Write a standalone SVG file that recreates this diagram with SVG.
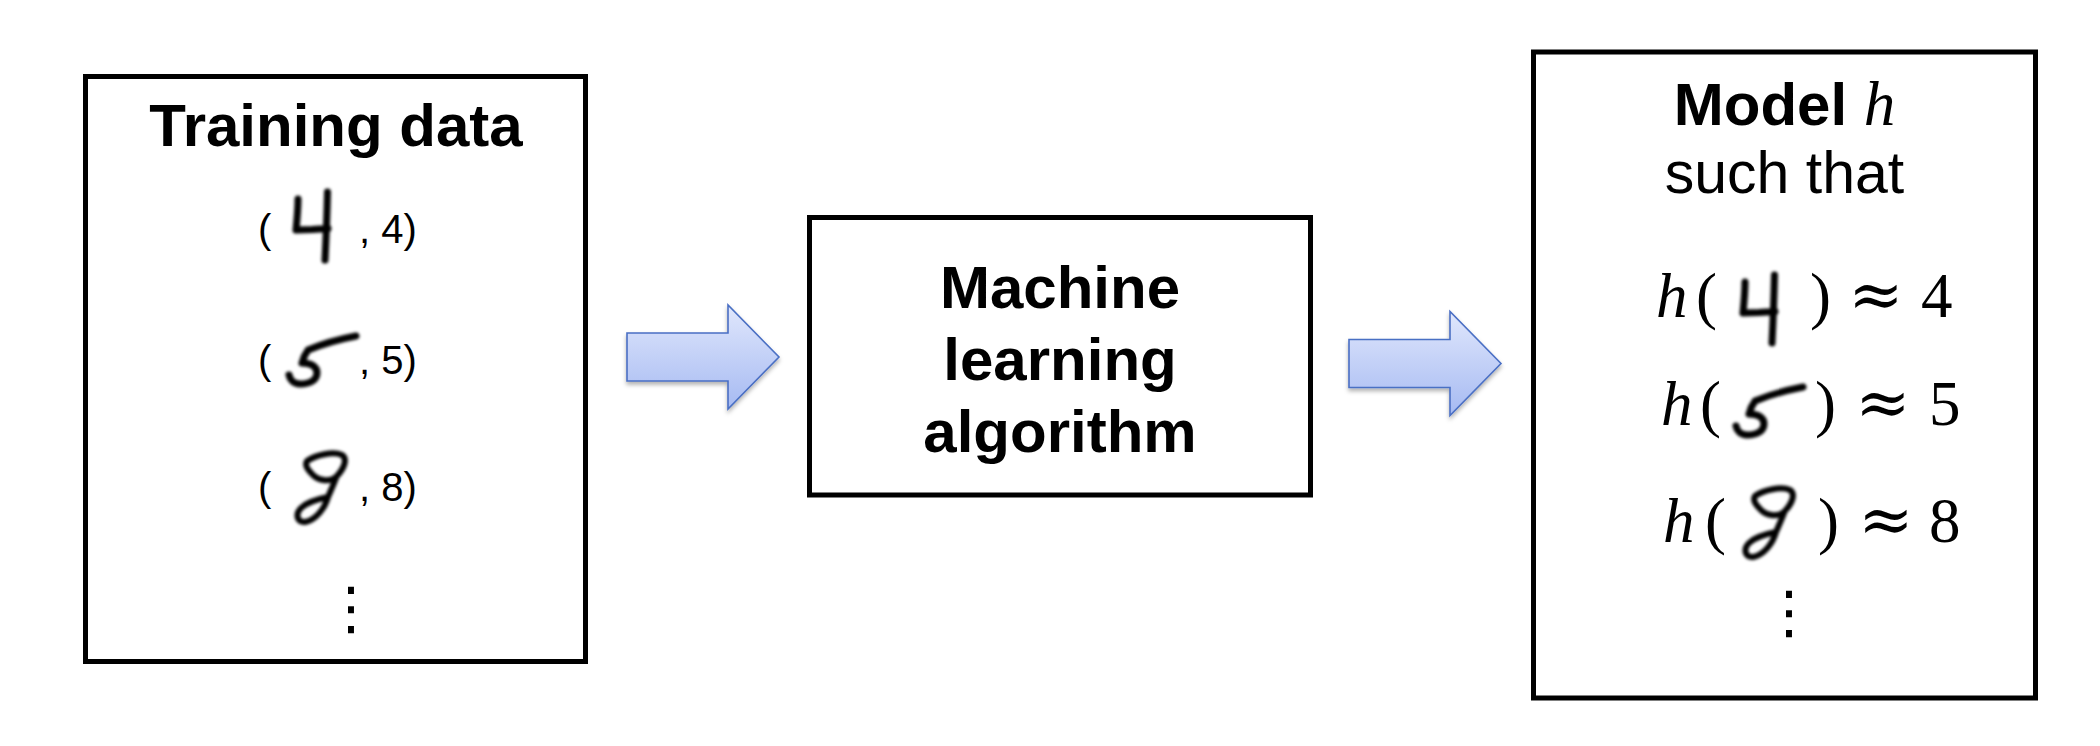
<svg xmlns="http://www.w3.org/2000/svg" width="2100" height="746" viewBox="0 0 2100 746">
<style>
.box{fill:#fff;stroke:#000;stroke-width:5}
.bold{font-family:"Liberation Sans",Arial,sans-serif;font-weight:bold;font-size:60px;fill:#000}
.reg{font-family:"Liberation Sans",Arial,sans-serif;font-size:59px;fill:#000}
.pair{font-family:"Liberation Sans",Arial,sans-serif;font-size:40px;fill:#000}
.math{font-family:"Liberation Serif","Times New Roman",serif;font-size:63px;fill:#000}
.mi{font-style:italic}
.approx{font-family:"DejaVu Serif",serif;font-size:66px;fill:#000}
.vd{font-family:"DejaVu Sans",sans-serif;font-size:58px;fill:#000}
.ink{fill:none;stroke:#000;stroke-width:7;stroke-linecap:round;stroke-linejoin:round;filter:url(#blur)}
.ink8{stroke-width:6}
.arrow{fill:url(#agrad);stroke:#4a6fc4;stroke-width:1.6;filter:url(#shadow)}
</style>
<defs>
<linearGradient id="agrad" x1="0" y1="0" x2="0" y2="1">
<stop offset="0" stop-color="#e0e7fc"/>
<stop offset="1" stop-color="#a6baf2"/>
</linearGradient>
<filter id="blur" x="-20%" y="-20%" width="140%" height="140%">
<feGaussianBlur stdDeviation="1.4"/>
</filter>
<filter id="shadow" x="-10%" y="-10%" width="130%" height="140%">
<feDropShadow dx="0" dy="3" stdDeviation="2" flood-color="#000" flood-opacity="0.3"/>
</filter>
<g id="d4">
<path class="ink" d="M298,199 C298,210 297,220 296,230 L312,229.5 L328,228.5 M327.5,192 C327,215 326,240 325,260"/>
</g>
<g id="d5">
<path class="ink" d="M356,336 C340,339 320,345 308,350 C305,354 303,359 302,363 C310,363 317,366 317,373 C317,380 310,384 300,384 C294,384 290,380 289,375"/>
</g>
<g id="d8">
<path class="ink ink8" d="M307,461 C316,455 333,451 342,455 C348,459 344,469 336,477 C330,482 320,481 314,476 C309,471 304,466 307,461 Z M336,478 C333,486 330,492 328,497 C325,508 316,520 305,522 C297,523 295,514 301,508 C307,502 318,499 328,497"/>
</g>
</defs>
<rect width="2100" height="746" fill="#fff"/>

<g id="connectors">
<path class="arrow" d="M627,333 L728,333 L728,305 L779,357 L728,409 L728,381 L627,381 Z"/>
<path class="arrow" d="M1349,339.5 L1450,339.5 L1450,311.5 L1501,363.5 L1450,415.5 L1450,387.5 L1349,387.5 Z"/>
</g>

<g id="training-data">
<rect class="box" x="85.5" y="76.5" width="500" height="585"/>
<text class="bold" x="336" y="146" text-anchor="middle">Training data</text>
<text class="pair" x="258" y="243">(</text>
<use href="#d4"/>
<text class="pair" x="359" y="243">, 4)</text>
<text class="pair" x="258" y="374">(</text>
<use href="#d5"/>
<text class="pair" x="359" y="374">, 5)</text>
<text class="pair" x="258" y="501">(</text>
<use href="#d8"/>
<text class="pair" x="359" y="501">, 8)</text>
<text class="vd" x="351" y="628" text-anchor="middle">⋮</text>
</g>

<g id="ml-algorithm">
<rect class="box" x="809.5" y="217.5" width="501" height="277.5"/>
<text class="bold" x="1060" y="308" text-anchor="middle">Machine</text>
<text class="bold" x="1060" y="380" text-anchor="middle">learning</text>
<text class="bold" x="1060" y="452" text-anchor="middle">algorithm</text>
</g>

<g id="model">
<rect class="box" x="1533.5" y="52" width="502" height="646"/>
<text x="1784.5" y="125" text-anchor="middle"><tspan class="bold">Model </tspan><tspan class="math mi">h</tspan></text>
<text class="reg" x="1784.5" y="193" text-anchor="middle">such that</text>

<text class="math mi" x="1656" y="317">h</text>
<text class="math" x="1696" y="317">(</text>
<use href="#d4" transform="translate(1447,83)"/>
<text class="math" x="1810" y="317">)</text>
<text class="approx" x="1876" y="317" text-anchor="middle">≈</text>
<text class="math" x="1921" y="317">4</text>

<text class="math mi" x="1661" y="425">h</text>
<text class="math" x="1700" y="425">(</text>
<use href="#d5" transform="translate(1447,51)"/>
<text class="math" x="1815" y="425">)</text>
<text class="approx" x="1883" y="425" text-anchor="middle">≈</text>
<text class="math" x="1929" y="425">5</text>

<text class="math mi" x="1663" y="542">h</text>
<text class="math" x="1705" y="542">(</text>
<use href="#d8" transform="translate(1448,35)"/>
<text class="math" x="1818" y="542">)</text>
<text class="approx" x="1886" y="542" text-anchor="middle">≈</text>
<text class="math" x="1929" y="542">8</text>

<text class="vd" x="1789" y="632" text-anchor="middle">⋮</text>
</g>
</svg>
